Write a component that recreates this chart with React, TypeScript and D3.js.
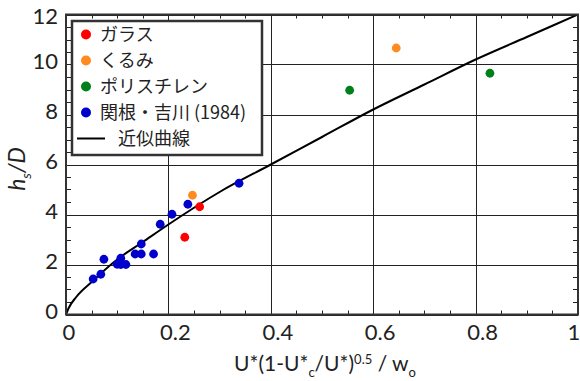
import React, { useEffect, useRef } from "react"
import * as d3 from "d3"

// glass beads
const glassX = [0.232, 0.261]
const glassY = [3.09, 4.31]
// walnut
const walnutX = [0.247, 0.645]
const walnutY = [4.77, 10.66]
// polystyrene
const polyX = [0.554, 0.828]
const polyY = [8.97, 9.65]
// Sekine & Yoshikawa (1984)
const sekineX = [0.053, 0.068, 0.074, 0.1, 0.107, 0.107, 0.117, 0.135, 0.147, 0.147, 0.171, 0.184, 0.207, 0.238, 0.338]
const sekineY = [1.42, 1.61, 2.21, 2.01, 2.25, 2.0, 2.0, 2.42, 2.42, 2.82, 2.42, 3.61, 4.01, 4.41, 5.25]
// approximation curve
const curveX = [0, 0.005, 0.02, 0.05, 0.1, 0.15, 0.2, 0.3, 0.4, 0.5, 0.6, 0.7, 0.8, 0.9, 1.0]
const curveY = [0, 0.25, 0.7, 1.3, 2.2, 2.9, 3.6, 4.9, 6.0, 7.1, 8.2, 9.2, 10.2, 11.1, 12.0]

const legendLabels = ["ガラス", "くるみ", "ポリスチレン", "関根・吉川 (1984)", "近似曲線"]
const colors = ["#ff0000", "#ff8a20", "#00801a", "#0000cc"]

const App = () => {
  const svgRef = useRef(null)

  useEffect(() => {
    const width = 580
    const height = 381
    const left = 66, right = 578, top = 14.5, bottom = 314.5
    const font = "Lato, 'Liberation Sans', sans-serif"
    const cjk = "'Noto Sans CJK JP', sans-serif"

    const svg = d3.select(svgRef.current)
    svg.selectAll("*").remove()
    svg.attr("width", width).attr("height", height)

    const x = d3.scaleLinear().domain([0, 1]).range([left, right])
    const y = d3.scaleLinear().domain([0, 12]).range([bottom, top])

    svg.append("rect").attr("width", width).attr("height", height).attr("fill", "white")

    // grid
    const grid = svg.append("g").attr("stroke", "#222").attr("stroke-width", 1)
    x.ticks(5).forEach(t => {
      grid.append("line").attr("x1", Math.round(x(t)) + 0.5).attr("x2", Math.round(x(t)) + 0.5)
        .attr("y1", top).attr("y2", bottom)
    })
    y.ticks(6).forEach(t => {
      grid.append("line").attr("y1", Math.round(y(t)) + 0.5).attr("y2", Math.round(y(t)) + 0.5)
        .attr("x1", left).attr("x2", right)
    })

    // minor ticks, all four sides, pointing in
    const minor = svg.append("g").attr("stroke", "#222").attr("stroke-width", 1)
    x.ticks(25).forEach(t => {
      const px = Math.round(x(t)) + 0.5
      minor.append("line").attr("x1", px).attr("x2", px).attr("y1", bottom).attr("y2", bottom - 4)
      minor.append("line").attr("x1", px).attr("x2", px).attr("y1", top).attr("y2", top + 4)
    })
    y.ticks(30).forEach(t => {
      const py = Math.round(y(t)) + 0.5
      minor.append("line").attr("y1", py).attr("y2", py).attr("x1", left).attr("x2", left + 5)
      minor.append("line").attr("y1", py).attr("y2", py).attr("x1", right).attr("x2", right - 5)
    })

    // curve
    const clip = svg.append("clipPath").attr("id", "plotclip")
    clip.append("rect").attr("x", left).attr("y", top).attr("width", right - left).attr("height", bottom - top)
    const curveLine = d3.line()
      .x((d, i) => x(curveX[i]))
      .y((d, i) => y(curveY[i]))
      .curve(d3.curveMonotoneX)
    svg.append("path")
      .attr("d", curveLine(curveX))
      .attr("fill", "none")
      .attr("stroke", "black")
      .attr("stroke-width", 2)
      .attr("clip-path", "url(#plotclip)")

    // points
    const series = [[glassX, glassY], [walnutX, walnutY], [polyX, polyY], [sekineX, sekineY]]
    const drawOrder = [3, 1, 0, 2]
    drawOrder.forEach(si => {
      const [xs, ys] = series[si]
      svg.append("g").selectAll("circle")
        .data(xs)
        .join("circle")
        .attr("cx", (d) => x(d))
        .attr("cy", (d, i) => y(ys[i]))
        .attr("r", 4.4)
        .attr("fill", colors[si])
    })

    // frame
    svg.append("rect")
      .attr("x", left).attr("y", top).attr("width", right - left).attr("height", bottom - top)
      .attr("fill", "none").attr("stroke", "#333").attr("stroke-width", 2)

    // tick labels
    x.ticks(5).forEach(t => {
      const label = d3.format("~g")(t)
      const cx = Math.min(x(t) + (label.length > 1 ? 7 : 3), 574)
      svg.append("text").attr("x", cx).attr("y", 340)
        .attr("text-anchor", "middle")
        .style("font-family", font).style("font-size", "22px").attr("fill", "#222")
        .text(label)
    })
    y.ticks(6).forEach(t => {
      svg.append("text").attr("x", 58).attr("y", Math.max(y(t) - 3.5, 16) + 8)
        .attr("text-anchor", "end")
        .style("font-family", font).style("font-size", "22px").attr("fill", "#222")
        .text(d3.format("~g")(t))
    })

    // axis titles
    const xt = svg.append("text").attr("x", 325).attr("y", 371)
      .attr("text-anchor", "middle")
      .style("font-family", font).style("font-size", "21px").attr("fill", "#222")
    xt.append("tspan").text("U*(1-U*")
    xt.append("tspan").attr("dy", 6).style("font-size", "13px").text("c")
    xt.append("tspan").attr("dy", -6).text("/U*)")
    xt.append("tspan").attr("dy", -7).style("font-size", "13px").text("0.5")
    xt.append("tspan").attr("dy", 7).text(" / w")
    xt.append("tspan").attr("dy", 6).style("font-size", "13px").text("o")

    const yt = svg.append("text")
      .attr("transform", "translate(25,169) rotate(-90)")
      .attr("text-anchor", "middle")
      .style("font-family", font).style("font-size", "23px").style("font-style", "italic").attr("fill", "#222")
    yt.append("tspan").text("h")
    yt.append("tspan").attr("dy", 6).style("font-size", "14px").text("s")
    yt.append("tspan").attr("dy", -6).text("/D")

    // legend
    const lg = svg.append("g")
    lg.append("rect").attr("x", 72).attr("y", 21).attr("width", 190).attr("height", 134)
      .attr("fill", "white").attr("stroke", "#333").attr("stroke-width", 2.5)
    legendLabels.forEach((lab, i) => {
      const cy = 34.5 + i * 26
      if (i < 4) {
        lg.append("circle").attr("cx", 86).attr("cy", cy).attr("r", 5).attr("fill", colors[i])
      } else {
        lg.append("line").attr("x1", 77).attr("x2", 105).attr("y1", cy).attr("y2", cy)
          .attr("stroke", "black").attr("stroke-width", 2)
      }
      lg.append("text").attr("x", i < 4 ? 100 : 118).attr("y", cy).attr("dy", "0.36em")
        .style("font-family", cjk).style("font-size", "18px").attr("fill", "#222")
        .text(lab)
    })
  }, [])

  return (
    <div>
      <svg ref={svgRef} style={{ position: "absolute", left: 0, top: 0, display: "block" }} />
    </div>
  )
}

export default App
